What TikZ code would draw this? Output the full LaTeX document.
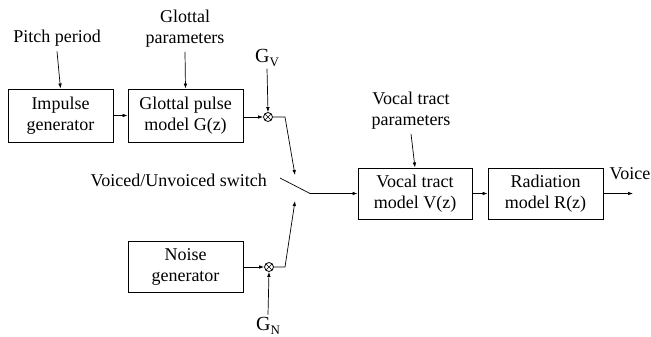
\documentclass[tikz,border=0pt]{standalone}
\usepackage{fontspec}
\setmainfont{Liberation Serif}
\usetikzlibrary{arrows.meta}
\newcommand{\gainlbl}[1]{{\fontsize{20}{20}\selectfont G}\raisebox{-0.4ex}{\fontsize{13}{13}\selectfont #1}}
\begin{document}
\begin{tikzpicture}[x=1pt,y=-1pt,
  every node/.style={font=\fontsize{18}{21}\selectfont, inner sep=0pt},
  blk/.style={draw, line width=0.9pt, align=center, minimum height=51pt},
  lbl/.style={align=center},
  mult/.style={draw, circle, line width=0.8pt, minimum size=9pt,
    path picture={\draw[line width=0.7pt] (path picture bounding box.north west) -- (path picture bounding box.south east)
      (path picture bounding box.north east) -- (path picture bounding box.south west);}},
  arr/.style={-{Latex[length=5pt,width=3.6pt]}, line width=0.7pt},
  ln/.style={line width=0.7pt}]
\useasboundingbox (0,0) rectangle (651,337);
% blocks
\node[blk, minimum width=105pt, minimum height=53pt] (imp) at (60.5,115.5) {Impulse\\generator};
\node[blk, minimum width=115pt, minimum height=53pt] (glo) at (185.5,115.5) {Glottal pulse\\model G(z)};
\node[blk, minimum width=115pt] (noi) at (185.5,266.5) {Noise\\generator};
\node[blk, minimum width=114pt] (voc) at (415,193.5) {Vocal tract\\model V(z)};
\node[blk, minimum width=115pt] (rad) at (545.5,193.5) {Radiation\\model R(z)};
% multipliers
\node[mult] (mv) at (268,117) {};
\node[mult] (mn) at (269,267) {};
% labels
\node[lbl] (pitch) at (57,38) {Pitch period};
\node[lbl] (gpar) at (185,29) {Glottal\\parameters};
\node[lbl] (gv) at (267,58) {\gainlbl{V}};
\node[lbl] (gn) at (268,326) {\gainlbl{N}};
\node[lbl] (vpar) at (411,111) {Vocal tract\\parameters};
\node[lbl, anchor=base east] (swl) at (267,186) {Voiced/Unvoiced switch};
\node[lbl, anchor=base east] (voice) at (650.5,179) {Voice};
% coordinates
\coordinate (ua) at (285,117);
\coordinate (ut) at (295,175);
\coordinate (la) at (285,267);
\coordinate (lt) at (295,201);
\coordinate (s1) at (280,178);
\coordinate (s2) at (310,193.5);
\coordinate (out) at (633,193.5);
% connectors
\draw[arr] (pitch.south) ++(0,5) -- (imp.north);
\draw[arr] (gpar.south) ++(0,4) -- (glo.north);
\draw[arr] (gv.south) ++(0,2) -- (mv.north);
\draw[arr] (imp.east) -- (glo.west);
\draw[arr] (glo.east |- mv) -- (mv.west);
\draw[arr] (mv.east) -- (ua) -- (ut);
\draw[arr] (noi.east |- mn) -- (mn.west);
\draw[arr] (mn.east) -- (la) -- (lt);
\draw[arr] (gn.north) ++(0,-3) -- (mn.south);
\draw[ln] (s1) -- (s2);
\draw[arr] (s2) -- (voc.west);
\draw[arr] (vpar.south) ++(0,4) -- (voc.north);
\draw[arr] (voc.east) -- (rad.west);
\draw[arr] (rad.east) -- (out);
\end{tikzpicture}
\end{document}
